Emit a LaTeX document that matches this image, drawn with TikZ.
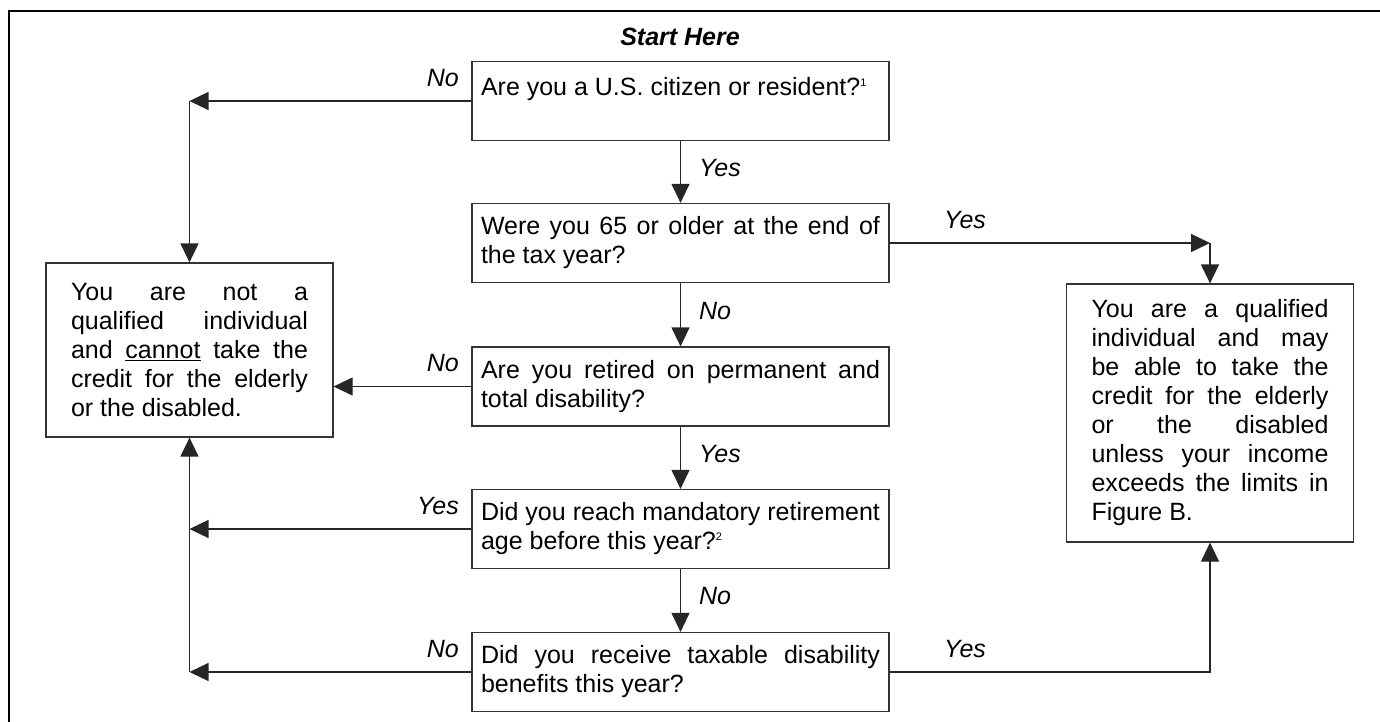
\documentclass[tikz,border=0pt]{standalone}
\usepackage{fontspec}
\setmainfont{Liberation Sans}
\usetikzlibrary{arrows.meta,positioning}
\setlength{\parindent}{0pt}
\newcommand{\boxfont}{\fontsize{25}{29}\selectfont\tolerance=10000\hyphenpenalty=10000\exhyphenpenalty=10000}
\newcommand{\lblfont}{\fontsize{25}{29}\selectfont\itshape}
\newcommand{\fnote}[1]{\raisebox{9pt}{\fontsize{11}{11}\selectfont #1}}

\begin{document}
\begin{tikzpicture}[x=1pt, y=-1pt,
	box/.style={draw=black!80, line width=1.2pt, inner xsep=9pt, inner ysep=0pt, text width=399pt, minimum height=79pt, align=justify, font=\boxfont},
	sidebox/.style={box, inner xsep=25pt, text width=237pt},
	lbl/.style={font=\lblfont, inner sep=0pt},
	arr/.style={draw=black!85, line width=1.2pt, -{Triangle[length=19pt,width=18pt]}}]

	\useasboundingbox (0,0) rectangle (1380,722);
	\clip (0,0) rectangle (1380,722);

	% outer frame
	\draw[line width=1.6pt] (9,760) -- (9,11) -- (1420,11);

	\node[font=\lblfont\bfseries] (start) at (680,37) {Start Here};

	% questions
	\node[box] (cit) at (680.5,101) {Are you a U.S. citizen or resident?\fnote{1}\\\mbox{}};
	\node[box] (age) at (680.5,243) {Were you 65 or older at the end of\linebreak the tax year?};
	\node[box] (ret) at (680.5,386.5) {Are you retired on permanent and\linebreak total disability?};
	\node[box] (mand) at (680.5,529) {Did you reach mandatory retirement\linebreak age before this year?\fnote{2}};
	\node[box] (dis) at (680.5,672) {Did you receive taxable disability\linebreak benefits this year?};

	% outcomes
	\node[sidebox, minimum height=174pt] (notq) at (189.5,350) {You are not a\linebreak qualified individual\linebreak and \underline{cannot} take the\linebreak credit for the elderly\linebreak or the disabled.};
	\node[sidebox, minimum height=258pt] (qual) at (1210,413) {You are a qualified\linebreak individual and may\linebreak be able to take the\linebreak credit for the elderly\linebreak or the disabled\linebreak unless your income\linebreak exceeds the limits in\linebreak Figure B.};

	% corners
	\coordinate (cornerCit) at (notq.north |- cit.west);
	\coordinate (cornerAge) at (qual.north |- age.east);
	\coordinate (cornerDis) at (notq.south |- dis.west);

	% arrows down the middle
	\draw[arr] (cit) -- node[lbl, right=18pt, yshift=4pt] {Yes} (age);
	\draw[arr] (age) -- node[lbl, right=18pt, yshift=4pt] {No} (ret);
	\draw[arr] (ret) -- node[lbl, right=18pt, yshift=4pt] {Yes} (mand);
	\draw[arr] (mand) -- node[lbl, right=18pt, yshift=4pt] {No} (dis);

	% arrows to the left
	\draw[arr] (cit.west) -- node[lbl, pos=0, anchor=south east, xshift=-12pt, yshift=14pt] {No} (cornerCit);
	\draw[arr] (cornerCit) -- (notq.north);
	\draw[arr] (ret.west) -- node[lbl, pos=0, anchor=south east, xshift=-12pt, yshift=14pt] {No} (ret.west -| notq.east);
	\draw[arr] (mand.west) -- node[lbl, pos=0, anchor=south east, xshift=-12pt, yshift=14pt] {Yes} (notq.south |- mand.west);
	\draw[arr] (dis.west) -- node[lbl, pos=0, anchor=south east, xshift=-12pt, yshift=14pt] {No} (cornerDis);
	\draw[arr] (cornerDis) -- (notq.south);

	% arrows to the right
	\draw[arr] (age.east) -- node[lbl, pos=0, anchor=south west, xshift=54pt, yshift=14pt] {Yes} (cornerAge);
	\draw[arr] (cornerAge) -- (qual.north);
	\draw[arr] (dis.east) -- node[lbl, pos=0, anchor=south west, xshift=54pt, yshift=14pt] {Yes} (qual.south |- dis.east) -- (qual.south);

\end{tikzpicture}
\end{document}
